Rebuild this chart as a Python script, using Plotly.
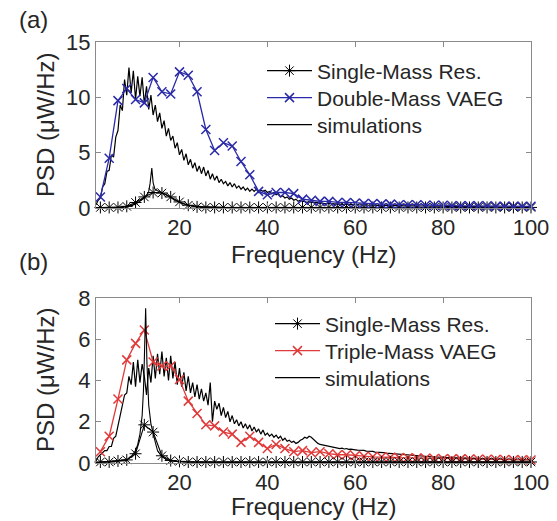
import numpy as np
import plotly.graph_objects as go

# ---------------- data ----------------
# measured points (2 Hz spacing)
meas_freq = list(range(2, 101, 2))

single_a = [0.05, 0.05, 0.05, 0.15, 0.5, 1.0, 1.4, 1.35, 1.0, 0.55,
            0.25, 0.1, 0.05, 0.05, 0.05, 0.05, 0.05, 0.05, 0.05, 0.05,
            0.05, 0.05, 0.05, 0.05, 0.05, 0.05, 0.05, 0.05, 0.05, 0.05,
            0.05, 0.05, 0.05, 0.05, 0.05, 0.05, 0.05, 0.05, 0.05, 0.05,
            0.05, 0.05, 0.05, 0.05, 0.05, 0.05, 0.05, 0.05, 0.05, 0.05]

double_mass = [1.0, 4.5, 9.7, 10.8, 9.8, 9.5, 11.8, 10.5, 10.3, 12.3,
               12.0, 10.5, 7.1, 5.2, 5.9, 5.6, 4.2, 3.0, 1.5, 1.2,
               1.4, 1.4, 1.3, 0.8, 0.7, 0.6, 0.6, 0.5, 0.5, 0.45,
               0.4, 0.4, 0.35, 0.35, 0.3, 0.3, 0.3, 0.25, 0.25, 0.25,
               0.2, 0.2, 0.2, 0.2, 0.2, 0.15, 0.15, 0.15, 0.15, 0.15]

single_b = [0.05, 0.05, 0.1, 0.15, 0.45, 1.85, 1.5, 0.35, 0.12, 0.08,
            0.05, 0.05, 0.05, 0.05, 0.05, 0.05, 0.05, 0.05, 0.05, 0.05,
            0.05, 0.05, 0.05, 0.05, 0.05, 0.05, 0.05, 0.05, 0.05, 0.05,
            0.05, 0.05, 0.05, 0.05, 0.05, 0.05, 0.05, 0.05, 0.05, 0.05,
            0.05, 0.05, 0.05, 0.05, 0.05, 0.05, 0.05, 0.05, 0.05, 0.05]

triple_mass = [0.55, 1.3, 3.1, 5.0, 5.8, 6.45, 4.9, 4.7, 4.7, 4.05,
               3.0, 2.4, 1.85, 1.8, 1.5, 1.4, 1.0, 1.3, 1.0, 0.7,
               0.9, 0.7, 0.55, 0.6, 0.5, 0.55, 0.45, 0.4, 0.4, 0.35,
               0.33, 0.3, 0.3, 0.28, 0.26, 0.25, 0.24, 0.23, 0.22, 0.21,
               0.2, 0.2, 0.19, 0.18, 0.18, 0.17, 0.17, 0.16, 0.16, 0.15]

# simulated spectra (0.5 Hz spacing, 1 .. 100 Hz)
sim_freq = np.arange(1.0, 100.01, 0.5)

sim_double = [
    0.3, 0.7, 0.9, 1.9, 2.2, 3.3, 3.4, 4.8, 4.6, 6.4,
    7.0, 9.3, 8.8, 11.6, 10.2, 12.7, 10.4, 12.4, 9.8, 11.9,
    10.1, 11.8, 9.4, 11.0, 8.9, 10.2, 8.4, 9.3, 7.8, 8.6,
    7.2, 7.9, 6.5, 7.2, 6.1, 6.5, 5.4, 5.9, 4.8, 5.3,
    4.3, 4.9, 3.9, 4.4, 3.6, 4.1, 3.3, 3.8, 3.1, 3.7,
    2.9, 3.4, 2.6, 3.1, 2.5, 2.9, 2.3, 2.6, 2.2, 2.4,
    2.0, 2.3, 1.9, 2.2, 1.8, 2.0, 1.7, 1.9, 1.6, 1.8,
    1.5, 1.7, 1.5, 1.7, 1.4, 1.6, 1.5, 1.6, 1.4, 1.5,
    1.3, 1.4, 1.2, 1.3, 1.0, 1.1, 0.9, 1.0, 0.8, 0.9,
    0.7, 0.8, 0.6, 0.7, 0.6, 0.6, 0.5, 0.6, 0.5, 0.5,
    0.45, 0.5, 0.4, 0.45, 0.4, 0.42, 0.38, 0.4, 0.35, 0.38,
    0.33, 0.36, 0.32, 0.34, 0.3, 0.33, 0.3, 0.31, 0.28, 0.3,
    0.27, 0.29, 0.26, 0.28, 0.25, 0.27, 0.25, 0.26, 0.24, 0.25,
    0.23, 0.24, 0.22, 0.24, 0.22, 0.23, 0.21, 0.22, 0.2, 0.22,
    0.2, 0.21, 0.19, 0.2, 0.18, 0.2, 0.18, 0.19, 0.17, 0.18,
    0.17, 0.18, 0.16, 0.17, 0.16, 0.17, 0.15, 0.16, 0.15, 0.16,
    0.14, 0.15, 0.14, 0.15, 0.13, 0.14, 0.13, 0.14, 0.12, 0.13,
    0.12, 0.13, 0.12, 0.12, 0.11, 0.12, 0.11, 0.12, 0.1, 0.11,
    0.1, 0.11, 0.1, 0.1, 0.09, 0.1, 0.09, 0.1, 0.09, 0.09,
    0.08, 0.09, 0.08, 0.09, 0.08, 0.08, 0.08, 0.08, 0.08]

sim_triple = [
    0.1, 0.3, 0.4, 0.5, 0.6, 0.6, 0.8, 0.8, 1.2, 1.3,
    1.8, 2.2, 2.7, 3.3, 3.4, 4.2, 3.8, 4.9, 3.7, 5.0,
    3.9, 4.8, 4.2, 3.3, 4.6, 3.9, 5.2, 4.1, 5.3, 4.3,
    5.4, 4.2, 5.1, 4.0, 5.2, 4.1, 4.9, 3.8, 4.6, 3.7,
    4.4, 3.5, 4.2, 3.4, 3.9, 3.2, 3.8, 3.1, 3.6, 3.0,
    3.4, 2.8, 3.9, 2.0, 3.0, 2.6, 2.9, 2.3, 2.7, 2.2,
    2.5, 2.0, 2.3, 1.9, 2.1, 1.8, 2.0, 1.7, 1.9, 1.65,
    1.85, 1.55, 1.75, 1.5, 1.65, 1.4, 1.6, 1.35, 1.45, 1.3,
    1.4, 1.25, 1.35, 1.2, 1.3, 1.1, 1.2, 1.05, 1.1, 1.0,
    1.05, 0.95, 1.0, 1.1, 1.15, 1.25, 1.2, 1.3, 1.25, 1.15,
    1.05, 0.95, 0.9, 0.88, 0.85, 0.82, 0.8, 0.78, 0.76, 0.74,
    0.73, 0.7, 0.72, 0.68, 0.7, 0.66, 0.67, 0.64, 0.64, 0.62,
    0.62, 0.6, 0.61, 0.58, 0.58, 0.55, 0.56, 0.53, 0.53, 0.51,
    0.5, 0.5, 0.48, 0.47, 0.46, 0.45, 0.44, 0.43, 0.42, 0.41,
    0.4, 0.39, 0.38, 0.37, 0.36, 0.35, 0.34, 0.34, 0.33, 0.32,
    0.31, 0.31, 0.3, 0.3, 0.29, 0.29, 0.28, 0.28, 0.27, 0.27,
    0.26, 0.26, 0.25, 0.25, 0.25, 0.24, 0.24, 0.24, 0.23, 0.23,
    0.22, 0.22, 0.22, 0.21, 0.21, 0.21, 0.2, 0.2, 0.2, 0.2,
    0.19, 0.19, 0.19, 0.18, 0.18, 0.18, 0.18, 0.17, 0.17, 0.17,
    0.17, 0.16, 0.16, 0.16, 0.16, 0.15, 0.15, 0.15, 0.15]

# simulated single-mass resonator responses
sim_single_a_freq = [1, 8, 10, 11, 12, 12.5, 13, 13.3, 13.7, 14.0, 14.4, 15,
                     16, 17, 18, 19, 20, 22, 25, 30, 40, 60, 100]
sim_single_a = [0.02, 0.1, 0.35, 0.6, 0.9, 1.1, 1.5, 2.2, 3.6, 2.3, 1.7, 1.55,
                1.4, 1.2, 0.95, 0.7, 0.5, 0.25, 0.12, 0.06, 0.03, 0.02, 0.01]

sim_single_b_freq = [1, 8, 9, 10, 10.5, 11, 11.5, 11.8, 12.0, 12.3, 12.6, 13.0,
                     13.5, 14, 14.5, 15, 16, 17, 18, 20, 25, 40, 100]
sim_single_b = [0.02, 0.15, 0.3, 0.6, 0.9, 1.4, 2.3, 3.5, 5.0, 7.5, 4.8, 2.8,
                1.9, 1.4, 1.0, 0.6, 0.3, 0.18, 0.1, 0.06, 0.04, 0.02, 0.01]

x_ticks = [20, 40, 60, 80, 100]
y_ticks_a = [0, 5, 10, 15]
y_ticks_b = [0, 2, 4, 6, 8]

# ---------------- styling ----------------
W, H = 557, 521
FONT = "Liberation Sans, Arial, sans-serif"
TXT = "#262626"
FRAME = "#8a8a8a"
BLUE = "#2a2aa8"
RED = "#e03a3a"


def px(x):
    return x / W


def py(y):
    return 1 - y / H


fig = go.Figure()

# panel (a)
fig.add_trace(go.Scatter(x=sim_freq, y=sim_double, mode="lines",
                         line=dict(color="black", width=1.2),
                         name="simulations", legend="legend3",
                         xaxis="x", yaxis="y"))
fig.add_trace(go.Scatter(x=sim_single_a_freq, y=sim_single_a, mode="lines",
                         line=dict(color="black", width=1.1),
                         showlegend=False, xaxis="x", yaxis="y"))
fig.add_trace(go.Scatter(x=meas_freq, y=single_a, mode="lines+markers",
                         line=dict(color="black", width=1.1),
                         marker=dict(symbol="asterisk-open", size=10,
                                     line=dict(color="black", width=1)),
                         cliponaxis=False,
                         name="Single-Mass Res.", legend="legend",
                         xaxis="x", yaxis="y"))
fig.add_trace(go.Scatter(x=meas_freq, y=double_mass, mode="lines+markers",
                         line=dict(color=BLUE, width=1.3),
                         marker=dict(symbol="x-thin-open", size=9,
                                     line=dict(color=BLUE, width=1.5)),
                         cliponaxis=False,
                         name="Double-Mass VAEG", legend="legend2",
                         xaxis="x", yaxis="y"))

# panel (b)
fig.add_trace(go.Scatter(x=sim_freq, y=sim_triple, mode="lines",
                         line=dict(color="black", width=1.2),
                         name="simulations", legend="legend6",
                         xaxis="x2", yaxis="y2"))
fig.add_trace(go.Scatter(x=meas_freq, y=triple_mass, mode="lines+markers",
                         line=dict(color=RED, width=1.3),
                         marker=dict(symbol="x-thin-open", size=9,
                                     line=dict(color=RED, width=1.5)),
                         cliponaxis=False,
                         name="Triple-Mass VAEG", legend="legend5",
                         xaxis="x2", yaxis="y2"))
fig.add_trace(go.Scatter(x=sim_single_b_freq, y=sim_single_b, mode="lines",
                         line=dict(color="black", width=1.1),
                         showlegend=False, xaxis="x2", yaxis="y2"))
fig.add_trace(go.Scatter(x=meas_freq, y=single_b, mode="lines+markers",
                         line=dict(color="black", width=1.1),
                         marker=dict(symbol="asterisk-open", size=10,
                                     line=dict(color="black", width=1)),
                         cliponaxis=False,
                         name="Single-Mass Res.", legend="legend4",
                         xaxis="x2", yaxis="y2"))

axis_common = dict(showline=True, linecolor=FRAME, linewidth=1, mirror="allticks",
                   ticks="inside", ticklen=5, tickcolor=FRAME, tickwidth=1,
                   showgrid=False, zeroline=False, automargin=False,
                   tickfont=dict(family=FONT, size=22, color=TXT))

legend_common = dict(xanchor="left", yanchor="middle", bgcolor="rgba(0,0,0,0)",
                     font=dict(family=FONT, size=21, color=TXT),
                     tracegroupgap=0, itemwidth=45)

# one legend box per row so the row positions can be set individually
legend_rows = {
    "legend": (262, 71), "legend2": (262, 98), "legend3": (262, 125),
    "legend4": (270, 324), "legend5": (270, 351), "legend6": (270, 378),
}
legend_layout = {k: dict(x=px(xx), y=py(yy), **legend_common)
                 for k, (xx, yy) in legend_rows.items()}

xdom = [px(96), px(531)]
fig.update_layout(
    width=W, height=H,
    margin=dict(l=0, r=0, t=0, b=0, autoexpand=False),
    paper_bgcolor="white", plot_bgcolor="white",
    font=dict(family=FONT, color=TXT),
    xaxis=dict(domain=xdom, range=[1, 100], tickvals=x_ticks, anchor="y",
               **axis_common),
    yaxis=dict(domain=[py(208), py(42)], range=[0, 15], tickvals=y_ticks_a,
               anchor="x", **axis_common),
    xaxis2=dict(domain=xdom, range=[1, 100], tickvals=x_ticks, anchor="y2",
                **axis_common),
    yaxis2=dict(domain=[py(463), py(298)], range=[0, 8], tickvals=y_ticks_b,
                anchor="x2", **axis_common),
    showlegend=True,
    **legend_layout,
)

ann = dict(xref="paper", yref="paper", showarrow=False,
           xanchor="center", yanchor="middle",
           font=dict(family=FONT, size=24, color=TXT))
fig.add_annotation(x=px(33), y=py(19), text="(a)", **ann)
fig.add_annotation(x=px(33), y=py(261), text="(b)", **ann)
fig.add_annotation(x=px(313), y=py(254), text="Frequency (Hz)", **ann)
fig.add_annotation(x=px(313), y=py(506), text="Frequency (Hz)", **ann)
fig.add_annotation(x=px(45), y=py(125), text="PSD (\u03bcW/Hz)", textangle=-90, **ann)
fig.add_annotation(x=px(45), y=py(380), text="PSD (\u03bcW/Hz)", textangle=-90, **ann)

fig.write_html("out.html")
